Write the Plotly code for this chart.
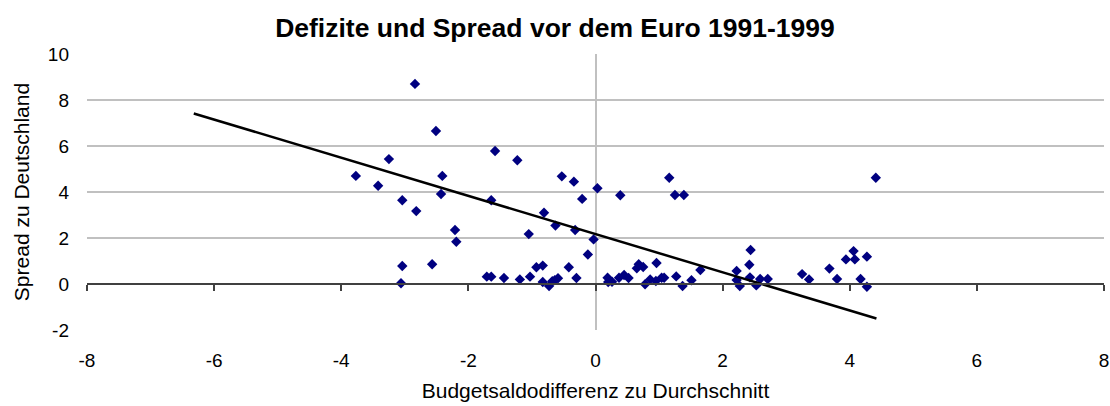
import numpy as np
import plotly.graph_objects as go

# Budgetsaldodifferenz zu Durchschnitt (x) and Spread zu Deutschland (y)
budget_diff = [
    -2.84, -2.51, -3.77, -3.42, -3.25, -2.41, -2.43, -3.04, -2.82, -2.21,
    -2.19, -3.04, -3.06, -2.57, -1.58, -1.23, -1.64, -0.53, -0.34, -0.21,
    0.03, -0.81, -1.05, -0.63, -0.32, -0.03, -0.12, -1.71, -1.64, -1.44,
    -1.19, -1.03, -0.93, -0.83, -0.83, -0.73, -0.68, -0.64, -0.59, -0.42,
    -0.30, 0.39, 1.16, 1.25, 1.39, 0.19, 0.20, 0.26, 0.37, 0.45,
    0.52, 0.65, 0.68, 0.75, 0.78, 0.86, 0.96, 0.95, 1.04, 1.08,
    1.27, 1.37, 1.51, 1.65, 2.22, 2.22, 2.27, 2.44, 2.42, 2.43,
    2.53, 2.59, 2.71, 3.25, 3.36, 3.68, 3.80, 3.94, 4.06, 4.08,
    4.17, 4.27, 4.27, 4.41,
]
spread = [
    8.70, 6.65, 4.70, 4.27, 5.43, 4.70, 3.91, 3.64, 3.17, 2.35,
    1.84, 0.78, 0.03, 0.86, 5.78, 5.38, 3.64, 4.68, 4.45, 3.70,
    4.16, 3.10, 2.17, 2.54, 2.35, 1.94, 1.28, 0.32, 0.32, 0.26,
    0.20, 0.32, 0.73, 0.80, 0.09, -0.09, 0.12, 0.17, 0.25, 0.73,
    0.26, 3.86, 4.62, 3.87, 3.87, 0.27, 0.09, 0.10, 0.27, 0.39,
    0.26, 0.68, 0.86, 0.74, -0.01, 0.20, 0.91, 0.13, 0.27, 0.27,
    0.33, -0.09, 0.16, 0.61, 0.57, 0.17, -0.09, 1.48, 0.84, 0.29,
    -0.06, 0.22, 0.22, 0.43, 0.20, 0.67, 0.22, 1.07, 1.43, 1.07,
    0.22, 1.19, -0.12, 4.62,
]
# Trendline: y = slope * x + intercept over [start, end]
trend_slope = -0.83
trend_intercept = 2.17
trend_range = [-6.32, 4.42]

x_ticks = [-8, -6, -4, -2, 0, 2, 4, 6, 8]
y_ticks = [-2, 0, 2, 4, 6, 8, 10]
x_ticktext = [str(v) for v in x_ticks]
y_ticktext = [str(v) for v in y_ticks]

tx = np.array(trend_range)
ty = trend_slope * tx + trend_intercept

FONT = "Liberation Sans, Arial, sans-serif"

fig = go.Figure()
fig.add_trace(go.Scatter(
    x=budget_diff, y=spread, mode="markers",
    marker=dict(symbol="diamond", size=8, color="#000080", line=dict(width=0)),
    showlegend=False, hoverinfo="x+y",
))
fig.add_trace(go.Scatter(
    x=tx, y=ty, mode="lines",
    line=dict(color="black", width=2.5),
    showlegend=False, hoverinfo="skip",
))
# helper trace for the axis crossing at y=0
fig.add_trace(go.Scatter(
    x=[x_ticks[0]], y=[0], mode="markers", marker=dict(opacity=0),
    xaxis="x2", showlegend=False, hoverinfo="skip",
))

fig.update_layout(
    width=1110, height=406,
    margin=dict(l=87, r=6, t=54, b=76, autoexpand=False),
    paper_bgcolor="white", plot_bgcolor="white",
    font=dict(family=FONT, size=19, color="black"),
    title=dict(
        text="<b>Defizite und Spread vor dem Euro 1991-1999</b>",
        x=0.5, xanchor="center", y=1 - 28 / 406, yanchor="middle",
        font=dict(family=FONT, size=26.5, color="black"),
    ),
    xaxis=dict(
        range=[-8, 8], tickvals=x_ticks, ticktext=x_ticktext, ticks="", showgrid=False,
        zeroline=True, zerolinecolor="#c0c0c0", zerolinewidth=1.5,
        showline=False, ticklabelstandoff=17, automargin=False,
        ticklabeloverflow="allow",
        tickfont=dict(size=19),
        title=dict(text="Budgetsaldodifferenz zu Durchschnitt", font=dict(size=21), standoff=13),
        fixedrange=True,
    ),
    xaxis2=dict(
        range=[-8, 8], tickvals=x_ticks, overlaying="x", anchor="free",
        position=(0 - y_ticks[0]) / (y_ticks[-1] - y_ticks[0]),
        showline=True, linecolor="#404040", linewidth=2,
        ticks="outside", ticklen=6, tickwidth=1.5, tickcolor="#404040",
        showticklabels=False, showgrid=False, zeroline=False, automargin=False,
    ),
    yaxis=dict(
        range=[-2, 10], tickvals=y_ticks, ticktext=y_ticktext, ticks="",
        showgrid=True, gridcolor="#c0c0c0", gridwidth=1.5,
        zeroline=False, showline=False, ticklabelstandoff=17, automargin=False,
        tickfont=dict(size=19),
        title=dict(text="Spread zu Deutschland", font=dict(size=21), standoff=12),
    ),
)

fig.write_html(
    "out.html",
    config={"displayModeBar": False},
    post_script="document.body.style.margin='0';document.body.style.overflow='hidden';",
)
